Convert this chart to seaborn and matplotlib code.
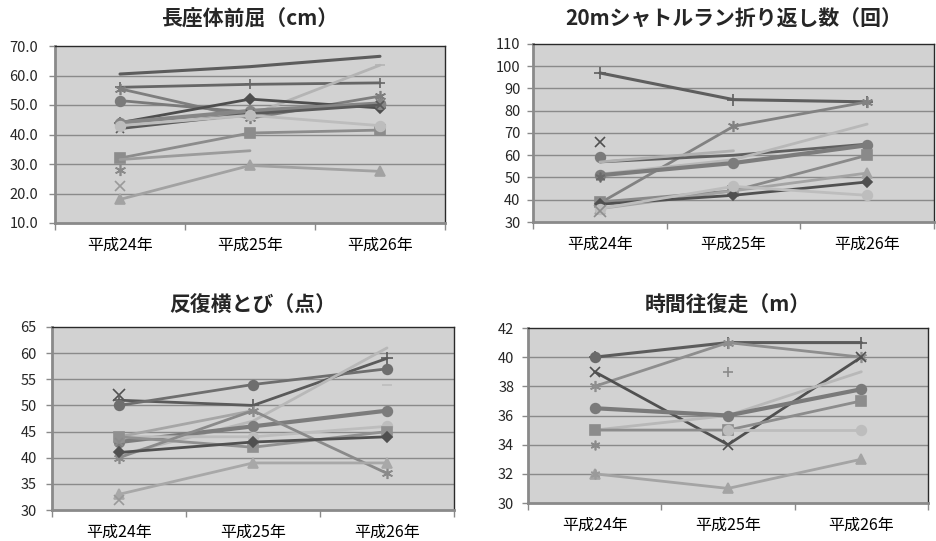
import numpy as np
import pandas as pd
import matplotlib
matplotlib.use("Agg")
import matplotlib.pyplot as plt
import seaborn as sns

nan = np.nan

years = ["平成24年", "平成25年", "平成26年"]

titles = ["長座体前屈（cm）", "20mシャトルラン折り返し数（回）", "反復横とび（点）", "時間往復走（m）"]

# 長座体前屈 (cm)
sit_reach = [
    [60.5, 63.0, 66.5],
    [56.0, 57.0, 57.5],
    [55.5, 45.5, 53.0],
    [42.5, 46.5, 63.5],
    [51.5, 47.5, 50.5],
    [44.0, 52.0, 49.0],
    [44.0, 48.0, 50.5],
    [42.0, 47.0, 50.0],
    [32.0, 40.5, 41.5],
    [31.5, 34.5, nan],
    [28.0, nan, nan],
    [22.5, nan, nan],
    [18.0, 29.5, 27.5],
    [43.0, 46.5, 43.0],
]

# 20mシャトルラン (回)
shuttle_run = [
    [97.0, 85.0, 84.0],
    [38.5, 73.0, 84.0],
    [66.0, nan, nan],
    [59.0, nan, nan],
    [57.0, 60.0, 65.0],
    [57.0, 62.0, nan],
    [51.5, 58.0, 74.0],
    [51.0, 56.5, 64.5],
    [50.0, nan, nan],
    [39.0, 44.0, 60.0],
    [36.0, 44.0, 52.0],
    [38.0, 42.0, 48.0],
    [36.0, 46.0, 42.0],
    [35.0, nan, nan],
]

# 反復横とび (点)
side_step = [
    [52.0, nan, nan],
    [51.0, 50.0, 59.0],
    [50.0, 54.0, 57.0],
    [40.5, 47.0, 61.0],
    [nan, nan, 54.0],
    [43.0, 46.0, 49.0],
    [44.0, 44.0, 46.0],
    [44.0, 49.0, nan],
    [40.0, 49.0, 37.0],
    [44.0, 42.0, 45.0],
    [41.0, 43.0, 44.0],
    [43.0, nan, nan],
    [33.0, 39.0, 39.0],
    [32.0, nan, nan],
]

# 時間往復走 (m)
timed_run = [
    [40.0, 41.0, 41.0],
    [40.0, nan, nan],
    [38.0, 41.0, 40.0],
    [39.0, 34.0, 40.0],
    [nan, 39.0, nan],
    [35.0, 36.0, 39.0],
    [36.5, 36.0, 37.8],
    [35.0, 35.0, 37.0],
    [nan, 35.0, 35.0],
    [34.0, nan, nan],
    [32.0, 31.0, 33.0],
    [32.0, nan, nan],
]

ASTER = (6, 2, 0)

# (marker, colour, line width, marker size) for each series
sit_reach_style = [
    (None, "#5c5c5c", 2.2, 0), ("+", "#666666", 2.0, 7), (ASTER, "#7e7e7e", 2.0, 8),
    ("_", "#b4b4b4", 2.0, 7), ("o", "#7a7a7a", 2.0, 7), ("D", "#4e4e4e", 2.0, 5.5),
    ("o", "#868686", 3.0, 7), ("x", "#5a5a5a", 2.0, 6), ("s", "#8c8c8c", 2.0, 6.5),
    (None, "#9c9c9c", 2.0, 0), (ASTER, "#8a8a8a", 2.0, 8), ("x", "#9a9a9a", 2.0, 7),
    ("^", "#a2a2a2", 2.0, 7), ("o", "#bdbdbd", 2.0, 7),
]
shuttle_run_style = [
    ("+", "#5e5e5e", 2.2, 8), (ASTER, "#828282", 2.0, 8), ("x", "#505050", 2.0, 7),
    ("o", "#7a7a7a", 2.0, 7), (None, "#606060", 2.0, 0), (None, "#b0b0b0", 2.0, 0),
    (None, "#b8b8b8", 2.0, 0), ("o", "#7c7c7c", 3.0, 7), (ASTER, "#6a6a6a", 2.0, 7),
    ("s", "#8a8a8a", 2.0, 6.5), ("^", "#a4a4a4", 2.0, 7), ("D", "#505050", 2.0, 5.5),
    ("o", "#bdbdbd", 2.0, 7), ("x", "#8e8e8e", 2.0, 8),
]
side_step_style = [
    ("x", "#505050", 2.0, 8), ("+", "#5a5a5a", 2.0, 8), ("o", "#6e6e6e", 2.0, 7),
    (None, "#b8b8b8", 2.0, 0), ("_", "#bdbdbd", 2.0, 7), ("o", "#7c7c7c", 3.0, 7),
    ("o", "#bdbdbd", 2.0, 7), (None, "#a6a6a6", 2.0, 0), (ASTER, "#8a8a8a", 2.0, 8),
    ("s", "#909090", 2.0, 6.5), ("D", "#505050", 2.0, 5.5), ("x", "#8a8a8a", 2.0, 6),
    ("^", "#a8a8a8", 2.0, 7), ("x", "#999999", 2.0, 7),
]
timed_run_style = [
    ("+", "#5c5c5c", 2.2, 8), ("o", "#6a6a6a", 2.0, 7), (ASTER, "#8e8e8e", 2.0, 8),
    ("x", "#505050", 2.0, 7), ("+", "#8a8a8a", 2.0, 7), (None, "#b8b8b8", 2.0, 0),
    ("o", "#7a7a7a", 3.0, 7), ("s", "#8c8c8c", 2.0, 6.5), ("o", "#bdbdbd", 2.0, 7),
    (ASTER, "#8a8a8a", 2.0, 7), ("^", "#a4a4a4", 2.0, 7), (ASTER, "#9a9a9a", 2.0, 7),
]

y_limits = [(10, 70), (30, 110), (30, 65), (30, 42)]
y_steps = [10, 10, 5, 2]
y_formats = ["{:.1f}", "{:.0f}", "{:.0f}", "{:.0f}"]

sns.set_style("white")
plt.rcParams["font.family"] = ["Noto Sans CJK JP", "DejaVu Sans"]

W, H = 937, 541
fig = plt.figure(figsize=(W / 100, H / 100), dpi=100)

# plot-area boxes in pixels: left, right, top, bottom
boxes = [(55, 445, 46, 223), (533, 934, 44, 222), (52, 454, 327, 510), (528, 928, 328, 503)]
title_y = [19, 19, 305, 305]
y_pads = [8, 5, 7, 6]

panels = [
    (sit_reach, sit_reach_style),
    (shuttle_run, shuttle_run_style),
    (side_step, side_step_style),
    (timed_run, timed_run_style),
]

for i, ((values, styles), (l, r, t, b)) in enumerate(zip(panels, boxes)):
    ax = fig.add_axes([l / W, 1 - b / H, (r - l) / W, (b - t) / H])
    ax.set_facecolor("#d2d2d2")
    lo, hi = y_limits[i]
    ticks = np.arange(lo, hi + 0.001, y_steps[i])
    ax.set_ylim(lo, hi)
    ax.set_xlim(-0.5, 2.5)
    ax.set_yticks(ticks)
    ax.set_yticklabels([y_formats[i].format(v) for v in ticks])
    for v in ticks[1:-1]:
        ax.axhline(v, color="#8a8a8a", lw=1.0, zorder=0.5)

    for series, (mk, col, lw, ms) in zip(values, styles):
        df = pd.DataFrame({"x": [0, 1, 2], "y": series}).dropna()
        kw = dict(color=col, linewidth=lw, ax=ax, zorder=2)
        if mk is not None:
            kw.update(marker=mk, markersize=ms, markeredgecolor=col,
                      markerfacecolor=col, markeredgewidth=1.2)
        sns.lineplot(data=df, x="x", y="y", **kw)

    ax.set_xticks([0, 1, 2])
    ax.set_xticklabels(years)
    ax.set_xticks([-0.5, 0.5, 1.5, 2.5], minor=True)
    ax.tick_params(axis="x", which="major", length=0, pad=10, labelsize=11.5, colors="black")
    ax.tick_params(axis="x", which="minor", length=5, width=1, color="#8a8a8a", direction="out", bottom=True)
    ax.tick_params(axis="y", length=4, width=1, color="#8a8a8a", direction="out", left=True,
                   labelsize=10.5, pad=y_pads[i])
    ax.set_xlabel("")
    ax.set_ylabel("")
    for side in ("left", "bottom"):
        ax.spines[side].set_color("#8a8a8a")
        ax.spines[side].set_linewidth(2.0)
    for side in ("top", "right"):
        ax.spines[side].set_color("#2a2a2a")
        ax.spines[side].set_linewidth(1.0)

    cx = (l + r) / 2 / W
    fig.text(cx, 1 - title_y[i] / H, titles[i], ha="center", va="center",
             fontsize=15, fontweight="bold")

fig.savefig("out.png", dpi=100, facecolor="white")
